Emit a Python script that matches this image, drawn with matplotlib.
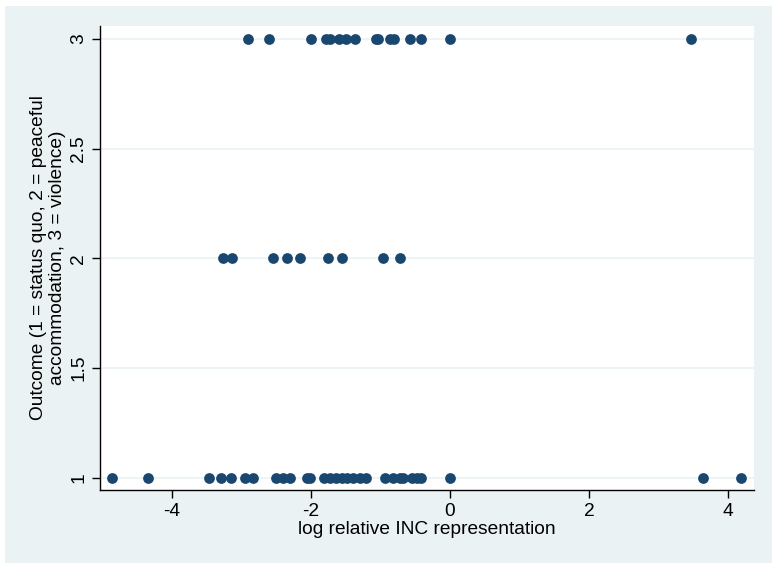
import matplotlib.pyplot as plt
from matplotlib.patches import Rectangle

plt.rcParams['font.family'] = ['Liberation Sans', 'DejaVu Sans']

# log relative INC representation, by outcome
x_violence = [-2.91, -2.61, -2.00, -1.78, -1.73, -1.60, -1.49, -1.36, -1.07, -1.03,
              -0.86, -0.81, -0.57, -0.42, 0.0, 3.47]
x_peaceful = [-3.26, -3.14, -2.54, -2.35, -2.16, -1.75, -1.55, -0.96, -0.72]
x_status = [-4.86, -4.34, -3.47, -3.29, -3.15, -2.95, -2.84, -2.51, -2.41, -2.30,
            -2.06, -2.02, -1.81, -1.73, -1.64, -1.56, -1.48, -1.39, -1.30, -1.21,
            -0.93, -0.82, -0.72, -0.67, -0.55, -0.48, -0.42, 0.0, 3.64, 4.18]

xs = x_status + x_peaceful + x_violence
ys = [1] * len(x_status) + [2] * len(x_peaceful) + [3] * len(x_violence)

bg = '#EAF2F3'
navy = '#1A476F'
fs = 13.8

fig = plt.figure(figsize=(7.72, 5.63), dpi=100, facecolor='white')
fig.patches.append(Rectangle((5 / 772, 0), 1, 1 - 6 / 563, transform=fig.transFigure,
                             facecolor=bg, edgecolor='none', zorder=-10))

ax = fig.add_axes([100 / 772, 1 - 490 / 563, 654 / 772, 464 / 563])
ax.set_facecolor('white')
ax.scatter(xs, ys, s=60, color=navy, zorder=3, linewidths=0)

ax.set_xlim(-5.036, 4.374)
ax.set_ylim(0.945, 3.059)
ax.set_xticks([-4, -2, 0, 2, 4])
ax.set_xticklabels(['-4', '-2', '0', '2', '4'])
ax.set_yticks([1, 1.5, 2, 2.5, 3])
ax.set_yticklabels(['1', '1.5', '2', '2.5', '3'], rotation=90, va='center')
for y in [1, 1.5, 2, 2.5, 3]:
    ax.axhline(y, color=bg, linewidth=1.2, zorder=1)

for s in ['top', 'right']:
    ax.spines[s].set_visible(False)
for s in ['left', 'bottom']:
    ax.spines[s].set_color('black')
    ax.spines[s].set_linewidth(1.0)
ax.tick_params(axis='both', length=6, width=1, labelsize=fs, colors='black', pad=3)

ax.set_xlabel('log relative INC representation', fontsize=fs, labelpad=1)
ax.set_ylabel('Outcome (1 = status quo, 2 = peaceful\naccommodation, 3 = violence)',
              fontsize=fs, labelpad=3, linespacing=1.2)

plt.savefig('out.png', dpi=100, facecolor=fig.get_facecolor())
